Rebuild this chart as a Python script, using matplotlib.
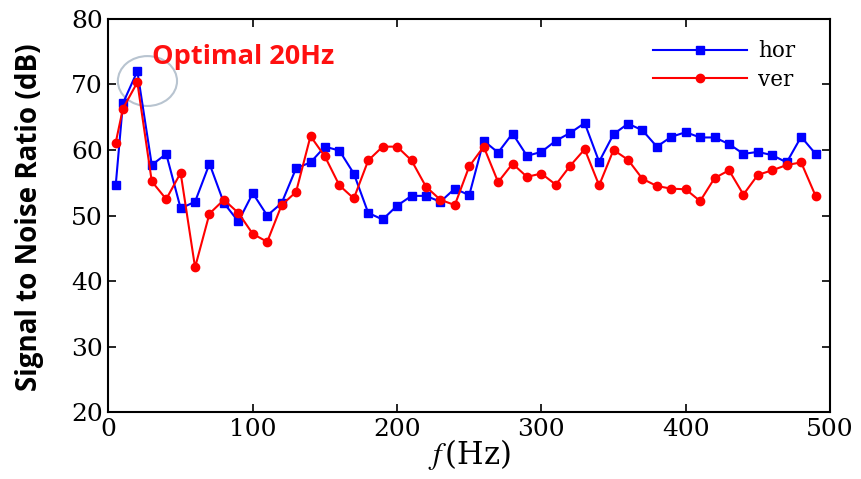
import matplotlib
matplotlib.use("Agg")
import matplotlib.pyplot as plt
from matplotlib.patches import Ellipse

freq = [5, 10] + list(range(20, 500, 10))
hor = [54.6, 67.1, 72.0, 57.7, 59.4, 51.1, 52.1, 57.9, 51.9, 49.1,
       53.4, 50.0, 51.9, 57.2, 58.1, 60.5, 59.9, 56.4, 50.4, 49.4,
       51.5, 53.0, 53.0, 52.1, 54.1, 53.1, 61.4, 59.6, 62.5, 59.1,
       59.7, 61.4, 62.6, 64.1, 58.2, 62.4, 64.0, 63.0, 60.5, 62.0,
       62.7, 61.9, 61.9, 60.9, 59.4, 59.7, 59.2, 58.1, 62.0, 59.4]
ver = [61.1, 66.3, 70.3, 55.2, 52.5, 56.5, 42.1, 50.3, 52.4, 50.4,
       47.2, 46.0, 51.6, 53.6, 62.1, 59.0, 54.6, 52.6, 58.4, 60.5,
       60.5, 58.4, 54.4, 52.4, 51.6, 57.5, 60.5, 55.1, 57.9, 55.9,
       56.4, 54.7, 57.6, 60.1, 54.6, 60.0, 58.5, 55.6, 54.5, 54.1,
       54.0, 52.2, 55.7, 56.9, 53.2, 56.2, 56.9, 57.7, 58.1, 53.0]
xticks = [0, 100, 200, 300, 400, 500]
yticks = [20, 30, 40, 50, 60, 70, 80]

plt.rcParams['mathtext.fontset'] = 'stix'

fig = plt.figure(figsize=(8.61, 4.79), dpi=100)
ax = fig.add_axes([0.126, 0.139, 0.838, 0.822])

ax.plot(freq, hor, color='#0000ff', lw=1.5, marker='s', ms=5.5, label='hor')
ax.plot(freq, ver, color='#ff0000', lw=1.5, marker='o', ms=6, label='ver')

ax.set_xlim(0, 500)
ax.set_ylim(20, 80)
ax.set_xticks(xticks)
ax.set_yticks(yticks)
ax.tick_params(direction='in', top=True, right=True, length=6, width=1.2,
               labelsize=18, pad=4)
for lab in ax.get_xticklabels() + ax.get_yticklabels():
    lab.set_family('DejaVu Serif')
for s in ax.spines.values():
    s.set_linewidth(1.5)

ax.set_xlabel('$f\\,$(Hz)', fontsize=22, family='DejaVu Serif', labelpad=-3)
ax.set_ylabel('Signal to Noise Ratio (dB)', fontsize=20, fontweight='bold',
              family='Open Sans')
ax.yaxis.set_label_coords(-0.09, 0.495)

ell = Ellipse((27, 70.5), 41, 7.6, fill=False, edgecolor='#b8c4d0', lw=1.5)
ax.add_patch(ell)
ax.text(30, 74.2, 'Optimal 20Hz', color='#ff1010', fontsize=19.5,
        fontweight='bold', family='Open Sans', ha='left', va='center')

leg = ax.legend(loc='upper right', frameon=False, handlelength=4.4,
                handletextpad=0.5, borderpad=0, borderaxespad=0,
                bbox_to_anchor=(0.952, 0.945),
                prop={'family': 'DejaVu Serif', 'size': 15.5},
                labelspacing=0.3)

fig.savefig('out.png', dpi=100)
